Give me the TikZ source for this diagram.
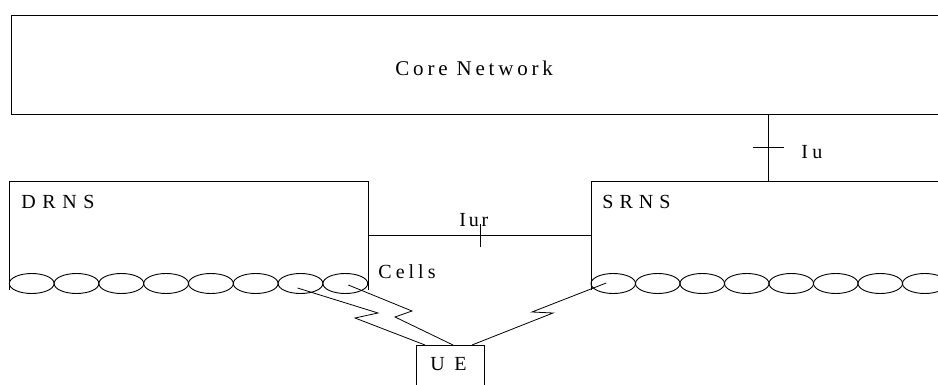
\documentclass[tikz,border=0pt]{standalone}
\usepackage{fontspec}
\setmainfont{Liberation Serif}
\usetikzlibrary{shapes.geometric, calc, positioning}

\begin{document}
\begin{tikzpicture}[x=1pt, y=-1pt, line width=0.9pt,
    net/.style={rectangle, draw, inner sep=0pt, anchor=north west},
    rns/.style={rectangle, inner sep=0pt, anchor=north west, minimum height=108},
    cell/.style={ellipse, draw, inner sep=0pt, minimum height=20},
    uebox/.style={rectangle, draw, inner sep=0pt, anchor=north west, minimum width=68, minimum height=60},
    lbl/.style={inner sep=0pt, anchor=base west, font=\fontsize{20}{24}\selectfont},
    radio/.style={line width=0.8pt}]
  \useasboundingbox (0,0) rectangle (938,385);
  \clip (0,0) rectangle (938,385);

  % Core network
  \node[net, minimum width=1000, minimum height=99] (core) at (11,15) {};
  \node[lbl, font=\fontsize{21}{25}\selectfont] (corelbl) at (395,76) {\addfontfeature{LetterSpace=18}Core Network};

  % RNS boxes
  \node[rns, minimum width=359] (drns) at (9,181) {};
  \node[rns, minimum width=400] (srns) at (591,181) {};
  \draw (drns.south west) |- (drns.north east) -- (drns.south east);
  \draw (srns.south west) |- (srns.north east);
  \node[lbl] (drnslbl) at (21,208) {\addfontfeature{LetterSpace=33}DRNS};
  \node[lbl] (srnslbl) at (602,208) {\addfontfeature{LetterSpace=30}SRNS};

  % Cells
  \foreach \i in {0,...,7} {
    \node[cell, minimum width=44.8] (d\i) at (31.7+44.8*\i, 283.5) {};
    \node[cell, minimum width=44.5] (s\i) at (613.25+44.5*\i, 283.5) {};
  }
  \node[lbl] (cellslbl) at (378,278) {\addfontfeature{LetterSpace=20}Cells};

  % Iu
  \coordinate (iub) at ($(srns.north west)+(177,0)$);
  \draw (iub) -- (iub |- core.south) coordinate (iut);
  \draw ($(iub)!0.5!(iut)+(-15,0)$) -- ($(iub)!0.5!(iut)+(16,0)$);
  \node[lbl] (iulbl) at (801,159) {\addfontfeature{LetterSpace=21}Iu};

  % Iur
  \draw (drns.east) -- (srns.west);
  \draw ($(drns.east)!0.5!(srns.west)+(0,-11)$) -- ++(0,23);
  \node[lbl] (iurlbl) at (459,226) {\addfontfeature{LetterSpace=14}Iur};

  % UE
  \node[uebox] (ue) at (416,345) {};
  \node[lbl] (uelbl) at (430,370) {\addfontfeature{LetterSpace=47}UE};

  % Radio links
  \draw[radio] ($(d6.center)+(-3,4.5)$) -- (378,313) -- (355,318) -- ($(ue.north west)+(9,0)$);
  \draw[radio] ($(d7.center)+(3,1.5)$) -- (412,311) -- (395,317) -- ($(ue.north west)+(37,0)$);
  \draw[radio] ($(s0.center)+(-7,-0.5)$) -- (532,312) -- (553,313) -- ($(ue.north west)+(56,0)$);
\end{tikzpicture}
\end{document}
